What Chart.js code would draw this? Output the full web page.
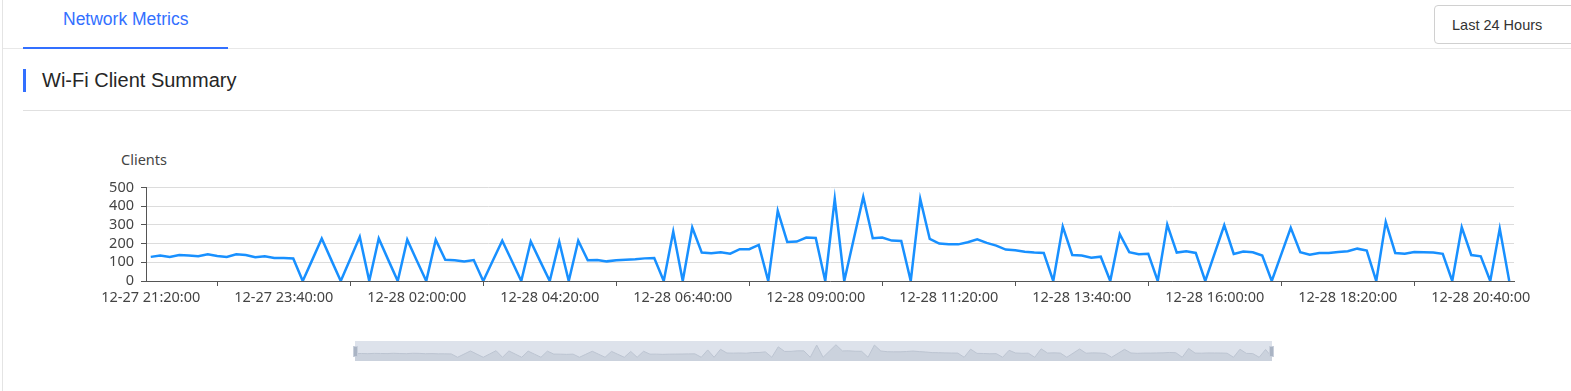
<!DOCTYPE html>
<html>
<head>
<meta charset="utf-8">
<title>Wi-Fi Client Summary</title>
<script src="https://cdn.jsdelivr.net/npm/chart.js@4.4.1/dist/chart.umd.min.js"></script>
<style>
  body { margin: 0; width: 1571px; height: 391px; overflow: hidden; position: relative; background: #fff; font-family: "Liberation Sans", Arial, sans-serif; }
  .abs { position: absolute; }
  #leftLine { left: 2px; top: 0; width: 1px; height: 391px; background: #e4e4e4; }
  #tabLine { left: 3px; right: 0; top: 48px; height: 1px; background: #e8e8e8; }
  #tab { left: 63px; top: 9px; font-size: 17.5px; line-height: 21px; color: #3370ff; }
  #tabUnderline { left: 23px; top: 47px; width: 205px; height: 2px; background: #3370ff; }
  #select { left: 1434px; top: 5px; width: 160px; height: 37px; border: 1px solid #d0d0d0; border-radius: 4px; box-sizing: content-box; }
  #select span { position: absolute; left: 17px; top: 0; line-height: 38px; font-size: 14.5px; color: #333; }
  #titleBar { left: 23px; top: 69px; width: 3px; height: 23px; background: #3370ff; }
  #title { left: 42px; top: 68px; font-size: 20px; line-height: 24px; color: #262626; }
  #divider { left: 23px; right: 0; top: 110px; height: 1px; background: #e0e0e0; }
  #yName { left: 121px; top: 150px; font-family: "Noto Sans", sans-serif; font-size: 14.5px; line-height: 19px; color: #444; }
  #chartBox { left: 0; top: 170px; width: 1571px; height: 141px; }
  #zoomBox { left: 355px; top: 341px; width: 917px; height: 20px; background: #dde2eb; }
  .handle { top: 346px; width: 3px; height: 9px; background: #aab4c4; border: 1px solid #c8cfdb; }
</style>
</head>
<body>
<div id="leftLine" class="abs"></div>
<div id="tabLine" class="abs"></div>
<div id="tab" class="abs">Network Metrics</div>
<div id="tabUnderline" class="abs"></div>
<div id="select" class="abs"><span>Last 24 Hours</span></div>
<div id="titleBar" class="abs"></div>
<div id="title" class="abs">Wi-Fi Client Summary</div>
<div id="divider" class="abs"></div>
<div id="yName" class="abs">Clients</div>
<div id="chartBox" class="abs"><canvas id="clientChart"></canvas></div>
<div id="zoomBox" class="abs"><canvas id="zoomChart"></canvas></div>
<div class="abs handle" style="left: 353px;"></div>
<div class="abs handle" style="left: 1269px;"></div>
<script>
var categories = [
  '12-27 21:20:00', '12-27 21:30:00', '12-27 21:40:00', '12-27 21:50:00',
  '12-27 22:00:00', '12-27 22:10:00', '12-27 22:20:00', '12-27 22:30:00', '12-27 22:40:00', '12-27 22:50:00',
  '12-27 23:00:00', '12-27 23:10:00', '12-27 23:20:00', '12-27 23:30:00', '12-27 23:40:00', '12-27 23:50:00',
  '12-28 00:00:00', '12-28 00:10:00', '12-28 00:20:00', '12-28 00:30:00', '12-28 00:40:00', '12-28 00:50:00',
  '12-28 01:00:00', '12-28 01:10:00', '12-28 01:20:00', '12-28 01:30:00', '12-28 01:40:00', '12-28 01:50:00',
  '12-28 02:00:00', '12-28 02:10:00', '12-28 02:20:00', '12-28 02:30:00', '12-28 02:40:00', '12-28 02:50:00',
  '12-28 03:00:00', '12-28 03:10:00', '12-28 03:20:00', '12-28 03:30:00', '12-28 03:40:00', '12-28 03:50:00',
  '12-28 04:00:00', '12-28 04:10:00', '12-28 04:20:00', '12-28 04:30:00', '12-28 04:40:00', '12-28 04:50:00',
  '12-28 05:00:00', '12-28 05:10:00', '12-28 05:20:00', '12-28 05:30:00', '12-28 05:40:00', '12-28 05:50:00',
  '12-28 06:00:00', '12-28 06:10:00', '12-28 06:20:00', '12-28 06:30:00', '12-28 06:40:00', '12-28 06:50:00',
  '12-28 07:00:00', '12-28 07:10:00', '12-28 07:20:00', '12-28 07:30:00', '12-28 07:40:00', '12-28 07:50:00',
  '12-28 08:00:00', '12-28 08:10:00', '12-28 08:20:00', '12-28 08:30:00', '12-28 08:40:00', '12-28 08:50:00',
  '12-28 09:00:00', '12-28 09:10:00', '12-28 09:20:00', '12-28 09:30:00', '12-28 09:40:00', '12-28 09:50:00',
  '12-28 10:00:00', '12-28 10:10:00', '12-28 10:20:00', '12-28 10:30:00', '12-28 10:40:00', '12-28 10:50:00',
  '12-28 11:00:00', '12-28 11:10:00', '12-28 11:20:00', '12-28 11:30:00', '12-28 11:40:00', '12-28 11:50:00',
  '12-28 12:00:00', '12-28 12:10:00', '12-28 12:20:00', '12-28 12:30:00', '12-28 12:40:00', '12-28 12:50:00',
  '12-28 13:00:00', '12-28 13:10:00', '12-28 13:20:00', '12-28 13:30:00', '12-28 13:40:00', '12-28 13:50:00',
  '12-28 14:00:00', '12-28 14:10:00', '12-28 14:20:00', '12-28 14:30:00', '12-28 14:40:00', '12-28 14:50:00',
  '12-28 15:00:00', '12-28 15:10:00', '12-28 15:20:00', '12-28 15:30:00', '12-28 15:40:00', '12-28 15:50:00',
  '12-28 16:00:00', '12-28 16:10:00', '12-28 16:20:00', '12-28 16:30:00', '12-28 16:40:00', '12-28 16:50:00',
  '12-28 17:00:00', '12-28 17:10:00', '12-28 17:20:00', '12-28 17:30:00', '12-28 17:40:00', '12-28 17:50:00',
  '12-28 18:00:00', '12-28 18:10:00', '12-28 18:20:00', '12-28 18:30:00', '12-28 18:40:00', '12-28 18:50:00',
  '12-28 19:00:00', '12-28 19:10:00', '12-28 19:20:00', '12-28 19:30:00', '12-28 19:40:00', '12-28 19:50:00',
  '12-28 20:00:00', '12-28 20:10:00', '12-28 20:20:00', '12-28 20:30:00', '12-28 20:40:00', '12-28 20:50:00',
  '12-28 21:00:00', '12-28 21:10:00'
];

var clients = [
  129, 136, 129, 139, 136, 132, 143, 134, 129, 143, 139, 127, 132, 123, 123, 120, 0, 113, 227, 113,
  0, 118, 236, 0, 227, 113, 0, 221, 110, 0, 220, 114, 111, 104, 112, 0, 108, 216, 108, 0,
  211, 105, 0, 209, 0, 216, 111, 112, 105, 111, 114, 116, 121, 123, 0, 264, 0, 286, 152, 148,
  154, 146, 170, 170, 193, 0, 375, 209, 211, 232, 230, 0, 439, 0, 225, 450, 229, 232, 216, 214,
  0, 439, 225, 200, 196, 196, 207, 223, 204, 189, 168, 164, 157, 152, 150, 0, 291, 139, 136, 125,
  130, 0, 250, 154, 143, 146, 0, 302, 152, 159, 150, 0, 149, 298, 145, 158, 154, 136, 0, 142,
  284, 154, 141, 150, 150, 155, 159, 173, 163, 0, 316, 150, 146, 155, 154, 152, 145, 0, 287, 139,
  132, 0, 280, 0
];

var yTicks = [0, 100, 200, 300, 400, 500];
var labelEvery = 14;

var axisColor = '#555';
var tickFont = { family: 'Noto Sans', size: 14.5 };

var chart = new Chart(document.getElementById('clientChart').getContext('2d'), {
  type: 'line',
  data: {
    labels: categories,
    datasets: [
      {
        label: 'Clients',
        data: clients,
        borderColor: '#1890ff',
        borderWidth: 2.5,
        pointRadius: 0,
        tension: 0,
        fill: false
      }
    ]
  },
  options: {
    responsive: true,
    maintainAspectRatio: false,
    animation: false,
    layout: { padding: { top: 17.5, right: 57, left: 0, bottom: 0 } },
    plugins: { legend: { display: false }, tooltip: { enabled: false } },
    scales: {
      x: {
        type: 'category',
        offset: true,
        afterFit: function(scale) { scale.height = 30; },
        border: { display: true, color: axisColor, width: 1 },
        grid: {
          drawOnChartArea: false,
          drawTicks: true,
          tickLength: 5,
          offset: false,
          tickColor: function(ctx) { return ctx.index % labelEvery === 7 ? axisColor : 'rgba(0,0,0,0)'; }
        },
        ticks: {
          autoSkip: false,
          maxRotation: 0,
          minRotation: 0,
          padding: 3,
          color: '#444',
          font: tickFont,
          callback: function(value, index) {
            return index % labelEvery === 0 ? this.getLabelForValue(value) : '';
          }
        }
      },
      y: {
        min: yTicks[0],
        max: yTicks[yTicks.length - 1],
        afterFit: function(scale) { scale.width = 146; },
        afterBuildTicks: function(scale) {
          scale.ticks = yTicks.map(function(v) { return { value: v }; });
        },
        border: { display: true, color: axisColor, width: 1 },
        grid: { color: '#dcdcdc', lineWidth: 1, tickColor: axisColor, tickLength: 5 },
        ticks: { autoSkip: false, stepSize: 100, padding: 7, color: '#444', font: tickFont }
      }
    }
  }
});

// data shadow in the zoom slider, range padded like the original
var cMin = Math.min.apply(null, clients), cMax = Math.max.apply(null, clients);
var pad = (cMax - cMin) * 0.3;

var zoomChart = new Chart(document.getElementById('zoomChart').getContext('2d'), {
  type: 'line',
  data: {
    labels: categories,
    datasets: [
      {
        data: clients,
        borderColor: '#bcc4d1',
        borderWidth: 1,
        backgroundColor: '#cbd2dd',
        pointRadius: 0,
        tension: 0,
        fill: 'start'
      }
    ]
  },
  options: {
    responsive: true,
    maintainAspectRatio: false,
    animation: false,
    layout: { padding: 0 },
    plugins: { legend: { display: false }, tooltip: { enabled: false } },
    scales: {
      x: { display: false, offset: false },
      y: { display: false, min: cMin - pad, max: cMax + pad }
    }
  }
});
</script>
</body>
</html>
